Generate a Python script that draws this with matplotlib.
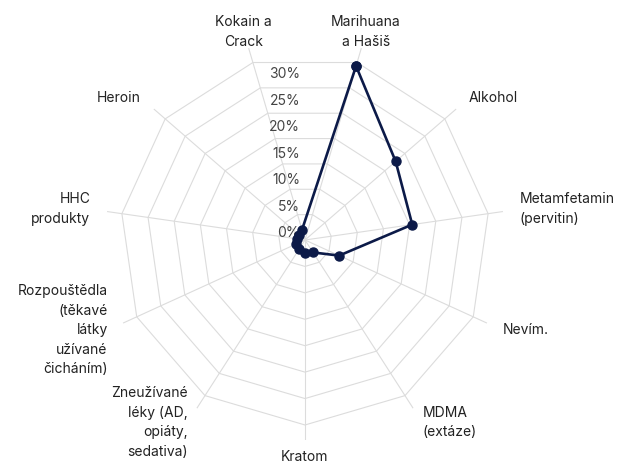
import numpy as np
import matplotlib
matplotlib.use("Agg")
import matplotlib.pyplot as plt
from matplotlib.transforms import offset_copy

plt.rcParams['font.family'] = ['Inter', 'DejaVu Sans']

# data (percent of respondents)
categories = [
    "Marihuana\na Hašiš",
    "Alkohol",
    "Metamfetamin\n(pervitin)",
    "Nevím.",
    "MDMA\n(extáze)",
    "Kratom",
    "Zneužívané\nléky (AD,\nopiáty,\nsedativa)",
    "Rozpouštědla\n(těkavé\nlátky\nužívané\nčicháním)",
    "HHC\nprodukty",
    "Heroin",
    "Kokain a\nCrack",
]
values = [34.3, 22.7, 20.5, 7.1, 2.8, 2.5, 2.0, 1.8, 1.6, 1.5, 2.0]
ticks = [0, 5, 10, 15, 20, 25, 30]
rings = [5, 10, 15, 20, 25, 30, 35]

line_col = "#0c1a48"
grid_col = "#dcdcdc"
rmax = 37.84
label_r = 41.05

fig = plt.figure(figsize=(6.22, 4.63), dpi=100)
ax = fig.add_axes([0.1688, 0.0497, 0.6431, 0.8639], projection="polar")
ax.set_theta_zero_location("N")
ax.set_theta_direction(-1)
ax.set_ylim(0, rmax)
ax.axis("off")

n = len(categories)
angles = np.pi / n + 2 * np.pi * np.arange(n) / n
closed = np.append(angles, angles[0])

# polygon grid
for r in rings:
    ax.plot(closed, [r] * (n + 1), color=grid_col, lw=0.8, zorder=1)
for a in angles:
    ax.plot([a, a], [0, rmax], color=grid_col, lw=0.8, zorder=1)

# data series
ax.plot(closed, values + values[:1], color=line_col, lw=1.9, marker="o",
        ms=6.5, mfc=line_col, mec=line_col, zorder=3)

# radial tick labels
tick_trans = offset_copy(ax.transData, fig=fig, x=-5, y=7, units="dots")
for t in ticks:
    ax.text(0, t, f"{t}%", transform=tick_trans, ha="right", va="center",
            fontsize=10, color="#444444", zorder=2)

# category labels
for a, lab in zip(angles, categories):
    s = np.sin(a)
    if abs(s) < 0.3:
        ha = "center"
    elif s > 0:
        ha = "left"
    else:
        ha = "right"
    ax.text(a, label_r, lab, ha=ha, va="center", fontsize=10,
            color="#222222", linespacing=1.5, multialignment=ha)

fig.savefig("out.png", dpi=100)
